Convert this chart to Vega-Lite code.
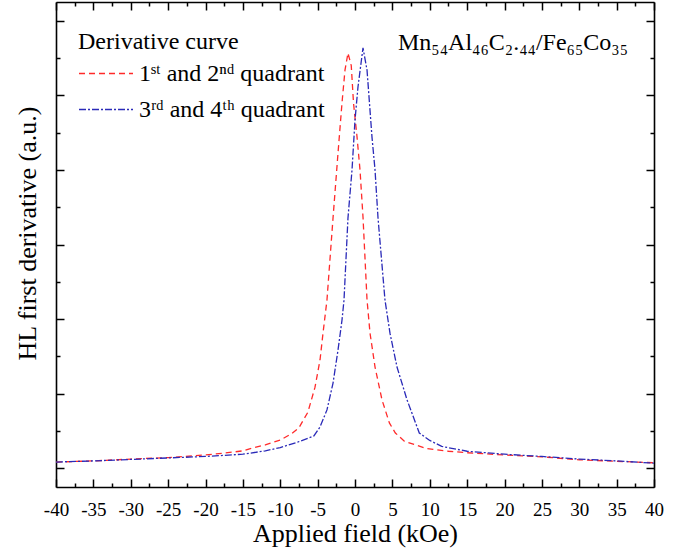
{
  "$schema": "https://vega.github.io/schema/vega-lite/v6.json",
  "autosize": "none",
  "width": 598,
  "height": 485,
  "padding": {"left": 56, "top": 2, "right": 41, "bottom": 63},
  "background": "white",
  "config": {
    "view": {"stroke": null},
    "font": "Liberation Serif",
    "axis": {
      "domainColor": "black", "domainWidth": 1.6,
      "tickColor": "black", "tickWidth": 1.5,
      "grid": false,
      "labelFont": "Liberation Serif", "labelFontSize": 19, "labelColor": "black",
      "titleFont": "Liberation Serif", "titleFontSize": 26, "titleFontWeight": "normal", "titleColor": "black"
    },
    "legend": {
      "orient": "none", "legendX": 22, "legendY": 28, "padding": 0,
      "titleFont": "Liberation Serif", "titleFontSize": 24, "titleFontWeight": "normal", "titleColor": "black",
      "labelFont": "Liberation Serif", "labelFontSize": 24, "labelColor": "black", "labelLimit": 400,
      "symbolType": "M-1,0L3,0", "symbolSize": 729, "symbolStrokeWidth": 1.3,
      "labelOffset": 32
    }
  },
  "data": {"values": [
    {"field": -40, "deriv": 0.16, "curve": "q12"},
    {"field": -35, "deriv": 0.19, "curve": "q12"},
    {"field": -30, "deriv": 0.24, "curve": "q12"},
    {"field": -25, "deriv": 0.28, "curve": "q12"},
    {"field": -20, "deriv": 0.35, "curve": "q12"},
    {"field": -17.5, "deriv": 0.40, "curve": "q12"},
    {"field": -15, "deriv": 0.46, "curve": "q12"},
    {"field": -14, "deriv": 0.52, "curve": "q12"},
    {"field": -12, "deriv": 0.62, "curve": "q12"},
    {"field": -10, "deriv": 0.75, "curve": "q12"},
    {"field": -8.5, "deriv": 0.92, "curve": "q12"},
    {"field": -7.5, "deriv": 1.08, "curve": "q12"},
    {"field": -6.3, "deriv": 1.5, "curve": "q12"},
    {"field": -5.35, "deriv": 2.17, "curve": "q12"},
    {"field": -4.68, "deriv": 2.9, "curve": "q12"},
    {"field": -4.28, "deriv": 3.62, "curve": "q12"},
    {"field": -3.75, "deriv": 4.51, "curve": "q12"},
    {"field": -2.94, "deriv": 6.71, "curve": "q12"},
    {"field": -2.27, "deriv": 8.46, "curve": "q12"},
    {"field": -1.74, "deriv": 9.8, "curve": "q12"},
    {"field": -1.34, "deriv": 10.68, "curve": "q12"},
    {"field": -0.94, "deriv": 11.14, "curve": "q12"},
    {"field": -0.5, "deriv": 10.8, "curve": "q12"},
    {"field": -0.2, "deriv": 9.8, "curve": "q12"},
    {"field": 0.27, "deriv": 8.89, "curve": "q12"},
    {"field": 0.67, "deriv": 8.0, "curve": "q12"},
    {"field": 1.07, "deriv": 6.74, "curve": "q12"},
    {"field": 1.61, "deriv": 4.51, "curve": "q12"},
    {"field": 2.01, "deriv": 3.62, "curve": "q12"},
    {"field": 2.68, "deriv": 2.71, "curve": "q12"},
    {"field": 3.61, "deriv": 1.83, "curve": "q12"},
    {"field": 4.6, "deriv": 1.21, "curve": "q12"},
    {"field": 5.4, "deriv": 0.94, "curve": "q12"},
    {"field": 6.6, "deriv": 0.72, "curve": "q12"},
    {"field": 9.6, "deriv": 0.52, "curve": "q12"},
    {"field": 12.5, "deriv": 0.45, "curve": "q12"},
    {"field": 15, "deriv": 0.41, "curve": "q12"},
    {"field": 20, "deriv": 0.35, "curve": "q12"},
    {"field": 25, "deriv": 0.3, "curve": "q12"},
    {"field": 30, "deriv": 0.22, "curve": "q12"},
    {"field": 35, "deriv": 0.18, "curve": "q12"},
    {"field": 40, "deriv": 0.14, "curve": "q12"},
    {"field": -40, "deriv": 0.16, "curve": "q34"},
    {"field": -35, "deriv": 0.19, "curve": "q34"},
    {"field": -30, "deriv": 0.23, "curve": "q34"},
    {"field": -25, "deriv": 0.27, "curve": "q34"},
    {"field": -20, "deriv": 0.31, "curve": "q34"},
    {"field": -15, "deriv": 0.37, "curve": "q34"},
    {"field": -12, "deriv": 0.46, "curve": "q34"},
    {"field": -10, "deriv": 0.55, "curve": "q34"},
    {"field": -7.6, "deriv": 0.7, "curve": "q34"},
    {"field": -5.5, "deriv": 0.86, "curve": "q34"},
    {"field": -4.68, "deriv": 1.1, "curve": "q34"},
    {"field": -3.75, "deriv": 1.56, "curve": "q34"},
    {"field": -2.94, "deriv": 2.28, "curve": "q34"},
    {"field": -2.27, "deriv": 3.17, "curve": "q34"},
    {"field": -1.74, "deriv": 3.97, "curve": "q34"},
    {"field": -1.47, "deriv": 4.51, "curve": "q34"},
    {"field": -0.94, "deriv": 6.71, "curve": "q34"},
    {"field": -0.4, "deriv": 8.0, "curve": "q34"},
    {"field": 0.0, "deriv": 9.34, "curve": "q34"},
    {"field": 0.4, "deriv": 10.23, "curve": "q34"},
    {"field": 1.07, "deriv": 11.28, "curve": "q34"},
    {"field": 1.61, "deriv": 10.68, "curve": "q34"},
    {"field": 2.27, "deriv": 8.89, "curve": "q34"},
    {"field": 2.68, "deriv": 8.0, "curve": "q34"},
    {"field": 3.08, "deriv": 6.71, "curve": "q34"},
    {"field": 4.01, "deriv": 4.51, "curve": "q34"},
    {"field": 4.68, "deriv": 3.62, "curve": "q34"},
    {"field": 5.62, "deriv": 2.71, "curve": "q34"},
    {"field": 6.96, "deriv": 1.83, "curve": "q34"},
    {"field": 8.6, "deriv": 0.94, "curve": "q34"},
    {"field": 10, "deriv": 0.74, "curve": "q34"},
    {"field": 11.6, "deriv": 0.58, "curve": "q34"},
    {"field": 15, "deriv": 0.45, "curve": "q34"},
    {"field": 20, "deriv": 0.37, "curve": "q34"},
    {"field": 25, "deriv": 0.31, "curve": "q34"},
    {"field": 30, "deriv": 0.24, "curve": "q34"},
    {"field": 35, "deriv": 0.19, "curve": "q34"},
    {"field": 40, "deriv": 0.13, "curve": "q34"}
  ]},
  "resolve": {"axis": {"x": "independent", "y": "independent"}},
  "layer": [
    {
      "mark": {"type": "line", "strokeWidth": 1.3},
      "encoding": {
        "x": {
          "field": "field", "type": "quantitative",
          "scale": {"domain": [-40, 40], "nice": false, "zero": false},
          "axis": {
            "orient": "bottom", "title": "Applied field (kOe)",
            "values": [-40,-37.5,-35,-32.5,-30,-27.5,-25,-22.5,-20,-17.5,-15,-12.5,-10,-7.5,-5,-2.5,0,2.5,5,7.5,10,12.5,15,17.5,20,22.5,25,27.5,30,32.5,35,37.5,40],
            "labelExpr": "datum.value % 5 === 0 ? '' + datum.value : ''",
            "tickSize": {"condition": {"test": "datum.value % 5 === 0", "value": -8}, "value": -4},
            "labelPadding": 21, "labelFlush": false, "labelOverlap": false,
            "titleY": 54, "titleBaseline": "alphabetic"
          }
        },
        "y": {
          "field": "deriv", "type": "quantitative",
          "scale": {"domain": [-0.51, 12.51], "nice": false, "zero": false},
          "axis": {
            "orient": "left", "title": "HL first derivative (a.u.)",
            "values": [0,1,2,3,4,5,6,7,8,9,10,11,12],
            "labels": false,
            "tickSize": {"condition": {"test": "datum.value % 2 === 0", "value": -8}, "value": -4},
            "titleX": -21, "titleY": 231, "titleBaseline": "alphabetic", "titleAngle": -90
          }
        },
        "color": {
          "field": "curve", "type": "nominal",
          "scale": {"domain": ["q12", "q34"], "range": ["#FF2A2A", "#2A2AB8"]},
          "legend": {
            "title": "Derivative curve",
            "titlePadding": 5, "rowPadding": 9,
            "labelExpr": "datum.value === 'q12' ? '1ˢᵗ and 2ⁿᵈ quadrant' : '3ʳᵈ and 4ᵗʰ quadrant'"
          }
        },
        "strokeDash": {
          "field": "curve", "type": "nominal",
          "scale": {"domain": ["q12", "q34"], "range": [[6, 4], [7, 2, 2, 2]]},
          "legend": {
            "title": "Derivative curve",
            "titlePadding": 5, "rowPadding": 9,
            "labelExpr": "datum.value === 'q12' ? '1ˢᵗ and 2ⁿᵈ quadrant' : '3ʳᵈ and 4ᵗʰ quadrant'"
          }
        }
      }
    },
    {
      "mark": {"type": "point", "opacity": 0},
      "encoding": {
        "x": {
          "field": "field", "type": "quantitative",
          "axis": {
            "orient": "top", "title": null, "labels": false,
            "values": [-40,-37.5,-35,-32.5,-30,-27.5,-25,-22.5,-20,-17.5,-15,-12.5,-10,-7.5,-5,-2.5,0,2.5,5,7.5,10,12.5,15,17.5,20,22.5,25,27.5,30,32.5,35,37.5,40],
            "tickSize": {"condition": {"test": "datum.value % 5 === 0", "value": -8}, "value": -4}
          }
        },
        "y": {
          "field": "deriv", "type": "quantitative",
          "axis": {
            "orient": "right", "title": null, "labels": false,
            "values": [0,1,2,3,4,5,6,7,8,9,10,11,12],
            "tickSize": {"condition": {"test": "datum.value % 2 === 0", "value": -8}, "value": -4}
          }
        }
      }
    },
    {
      "data": {"values": [{"label": "Mn₅₄Al₄₆C₂.₄₄/Fe₆₅Co₃₅"}]},
      "mark": {"type": "text", "align": "left", "baseline": "alphabetic", "fontSize": 24, "font": "Liberation Serif", "color": "black"},
      "encoding": {
        "x": {"datum": 5.75, "type": "quantitative", "axis": null},
        "y": {"datum": 11.22, "type": "quantitative", "axis": null},
        "text": {"field": "label"}
      }
    }
  ]
}
